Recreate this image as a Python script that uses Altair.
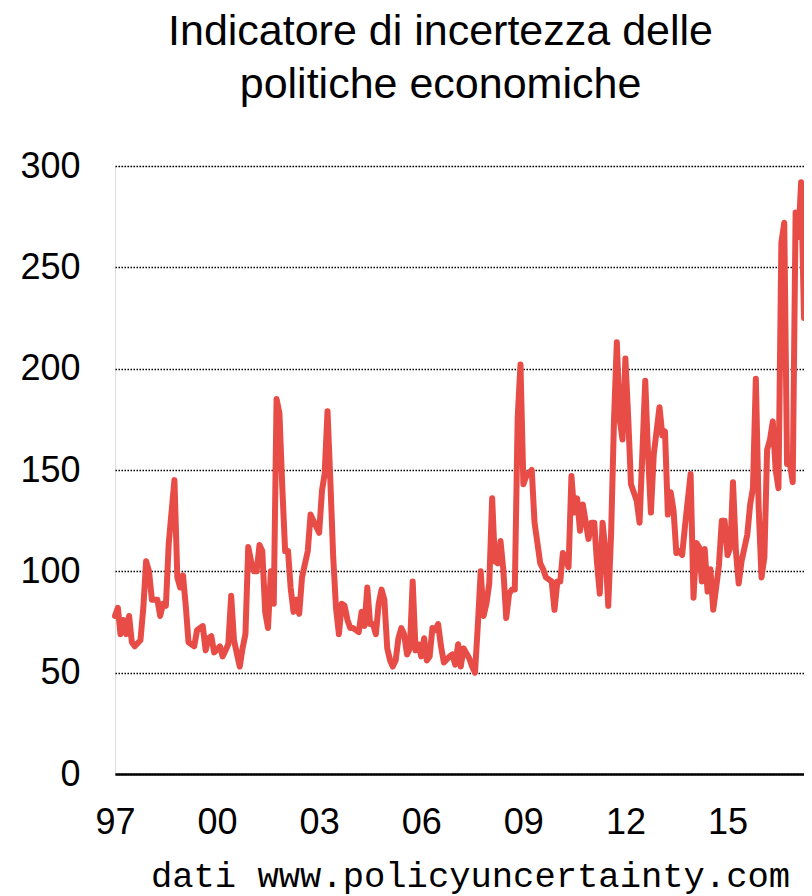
import altair as alt
import pandas as pd

# month index (0 = Jan 1997) and index value
months = [0, 1, 2, 3, 4, 5, 6, 7, 9, 10, 11, 12, 13, 15, 16, 17, 18, 19, 21, 22, 23, 24, 25, 26, 28, 29,
          31, 32, 33, 34, 35, 37, 38, 39, 40, 41, 42, 44, 45, 46, 47, 48, 49, 50, 51, 52, 53, 54, 55, 56,
          57, 58, 59, 60, 61, 62, 63, 64, 65, 66, 68, 69, 70, 72, 73, 74, 75, 76, 77, 78, 79, 80, 81, 82,
          83, 84, 86, 87, 88, 89, 90, 91, 92, 93, 94, 95, 96, 97, 98, 99, 100, 101, 102, 103, 104, 105,
          106, 107, 108, 109, 110, 111, 112, 113, 114, 115, 116, 118, 119, 120, 121, 122, 123, 125, 126,
          127, 128, 129, 130, 131, 132, 133, 134, 135, 136, 137, 138, 139, 140, 141, 142, 143, 144, 145,
          147, 148, 150, 151, 152, 154, 155, 156, 157, 158, 159, 160, 161, 162, 163, 164, 165, 167, 168,
          169, 170, 171, 172, 173, 174, 175, 176, 177, 178, 179, 180, 181, 182, 184, 185, 186, 187, 188,
          189, 190, 192, 193, 194, 195, 196, 197, 198, 199, 200, 201, 203, 204, 205, 206, 207, 208, 209,
          210, 211, 212, 213, 214, 215, 216, 217, 218, 219, 220, 221, 223, 224, 225, 226, 227, 228, 229,
          230, 231, 232, 233, 234, 235, 236, 237, 238, 239, 240, 241, 242, 243]
values = [78, 82, 69, 76, 69, 78, 65, 63, 66, 82, 105, 100, 86, 86, 78, 84, 83, 114, 145, 97, 92, 98, 82, 65, 63, 71,
          73, 61, 67, 68, 60, 63, 58, 61, 64, 88, 66, 53, 62, 69, 112, 105, 100, 100, 113, 110, 80, 72, 100, 84,
          185, 178, 142, 110, 110, 92, 80, 86, 79, 97, 110, 128, 125, 119, 140, 148, 179, 145, 107, 82, 69, 84, 83, 76,
          72, 72, 70, 80, 73, 92, 74, 74, 69, 84, 91, 86, 62, 56, 53, 56, 67, 72, 69, 59, 62, 95,
          61, 64, 58, 67, 56, 58, 72, 71, 74, 63, 55, 58, 59, 54, 64, 53, 62, 57, 53,
          50, 74, 100, 78, 84, 94, 136, 105, 104, 115, 100, 77, 89, 91, 91, 176, 202, 143, 147,
          150, 124, 104, 101, 97, 95, 81, 95, 95, 109, 106, 102, 147, 129, 136, 120, 133, 116, 124,
          124, 105, 89, 124, 110, 83, 119, 175, 213, 175, 165, 205, 175, 143, 135, 124, 158, 194, 157,
          129, 158, 181, 167, 169, 128, 139, 130, 109, 110, 108, 122, 148, 87, 114, 112, 95, 111, 90,
          101, 81, 92, 103, 125, 125, 108, 112, 144, 110, 94, 105, 118, 133, 141, 195, 132, 97, 107,
          160, 165, 174, 150, 141, 262, 272, 153, 153, 144, 277, 265, 292, 225]

tick_years = [1997, 2000, 2003, 2006, 2009, 2012, 2015]
y_ticks = [0, 50, 100, 150, 200, 250, 300]
title_lines = ["Indicatore di incertezza delle", "politiche economiche"]
source_text = "dati www.policyuncertainty.com"

dates = [(pd.Timestamp("1997-01-01") + pd.DateOffset(months=m)).strftime("%Y-%m-%d") for m in months]
df = pd.DataFrame({"date": dates, "value": values})

chart = alt.Chart(df).mark_line(
    color="#E84C46", strokeWidth=6, strokeJoin="round", strokeCap="round"
).encode(
    x=alt.X(
        "date:T",
        scale=alt.Scale(
            type="utc",
            domain=[alt.DateTime(year=1997, month=1, date=1, utc=True),
                    alt.DateTime(year=2017, month=4, date=1, utc=True)],
        ),
        axis=alt.Axis(
            title=source_text,
            values=[alt.DateTime(year=y, month=1, date=1, utc=True) for y in tick_years],
            format="%y",
            grid=False, ticks=False, tickSize=0,
            domainColor="black", domainWidth=2.5,
            labelFont="Liberation Sans", labelFontSize=36, labelColor="black",
            labelPadding=31, labelFlush=False,
            titleFont="Liberation Mono", titleFontSize=35.5, titleFontWeight="normal",
            titleColor="black", titlePadding=18, titleX=355, titleAlign="center",
        ),
    ),
    y=alt.Y(
        "value:Q",
        scale=alt.Scale(domain=[0, 300], nice=False, zero=True),
        axis=alt.Axis(
            title=None, values=y_ticks, grid=True,
            gridDash=[1.5, 1.5], gridColor="black", gridWidth=1.5,
            domain=False, ticks=False, tickSize=0,
            labelFont="Liberation Sans", labelFontSize=36, labelColor="black",
            labelPadding=35,
        ),
    ),
).properties(
    width=689,
    height=608,
    autosize=alt.AutoSizeParams(type="none"),
    padding={"left": 107, "top": 158, "right": 0, "bottom": 122},
    title=alt.TitleParams(
        title_lines, font="Liberation Sans", fontSize=43, fontWeight="normal",
        lineHeight=53, anchor="middle", frame="group", dx=-19, offset=41, color="black",
    ),
).configure_view(stroke=None).configure(background="white")

chart.save("out.html", embed_options={"renderer": "svg", "actions": False})
